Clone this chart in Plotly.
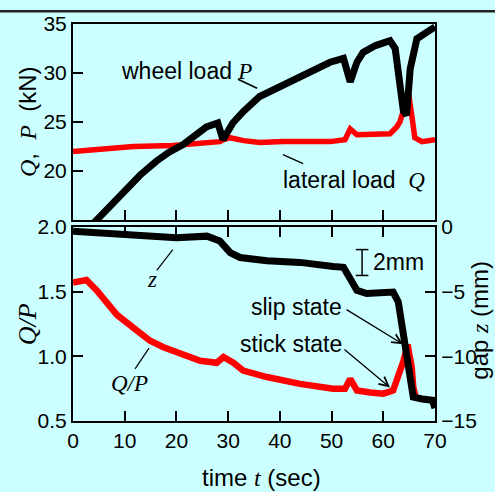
import plotly.graph_objects as go

# ---------------- data ----------------
t_P = [0, 4.8, 9.7, 13, 16.1, 18.5, 21.3, 23.5, 25.8, 28.0, 29.0, 30.9, 33.0, 36.1,
       40.0, 43.9, 47.0, 49.7, 52.3, 53.6, 54.9, 56.1, 58.5, 61.3, 62.3, 62.9,
       63.9, 64.5, 65.2, 66.5, 69.0, 70]
P = [12.5, 15.1, 18.0, 19.6, 21.0, 21.9, 22.7, 23.6, 24.5, 24.9, 23.2, 24.9, 26.1, 27.6,
     28.6, 29.6, 30.4, 31.1, 31.5, 29.1, 31.1, 32.1, 32.8, 33.3, 32.5, 29.8,
     26.1, 25.7, 30.4, 33.5, 34.3, 34.7]

t_Q = [0, 5, 11.7, 19.3, 25, 28.4, 29.1, 30.3, 33, 36.1, 40.7, 46, 49.7, 52.6, 53.6,
       54.9, 58, 61.3, 62.6, 63.2, 64.2, 64.9, 65.5, 66.1, 67.5, 70]
Q = [22.0, 22.2, 22.5, 22.6, 22.8, 23.0, 23.2, 23.4, 23.1, 22.9, 23.0, 23.0, 23.0, 23.2, 24.3,
     23.7, 23.7, 23.8, 24.5, 25.0, 26.7, 27.9, 25.7, 23.4, 23.0, 23.2]

t_z = [0, 6, 11.7, 16, 20.0, 25.9, 28.4, 30.4, 32.3, 37.5, 43.9, 50.3, 52.3, 53.6,
       54.9, 56.8, 59.5, 61.9, 62.9, 63.9, 64.9, 65.8, 67.5, 69.5, 70]
z = [-0.33, -0.45, -0.58, -0.7, -0.84, -0.71, -1.09, -1.98, -2.36, -2.61, -2.74, -3.05, -3.12, -4.0,
     -4.9, -5.15, -5.1, -5.03, -5.79, -8.3, -11.6, -13.15, -13.3, -13.4, -14.0]

t_QP = [0, 2.6, 4.6, 6.5, 8.5, 11.7, 14.9, 17.5, 20.0, 24.6, 27.8, 29.1, 31.0, 32.9,
        37.5, 43.9, 50.3, 52.6, 53.6, 54.9, 57.5, 60.0, 61.9, 63.2, 63.9, 64.7,
        65.5, 65.8, 66.3]
QP = [1.57, 1.59, 1.51, 1.42, 1.32, 1.22, 1.12, 1.07, 1.03, 0.965, 0.95, 0.995, 0.95, 0.89,
      0.84, 0.787, 0.75, 0.75, 0.825, 0.736, 0.72, 0.711, 0.736, 0.863, 0.964, 1.09,
      0.913, 0.76, 0.68]

x_ticks = [0, 10, 20, 30, 40, 50, 60, 70]
load_ticks = [20, 25, 30, 35]
ratio_ticks = [0.5, 1.0, 1.5, 2.0]
gap_ticks = [0, -5, -10, -15]
scale_bar_t = [55.9, 55.9]
scale_bar_z = [-1.75, -3.75]

# ---------------- figure ----------------
BG = "#CCFFFF"
SANS = "Liberation Sans, Arial, sans-serif"
SERIF = "Liberation Serif, Times New Roman, serif"


def it(s):
    return f'<span style="font-family:{SERIF}"><i>{s}</i></span>'


fig = go.Figure()
fig.add_trace(go.Scatter(x=t_Q, y=Q, mode="lines", line=dict(color="#FF0000", width=5.5),
                         xaxis="x", yaxis="y", showlegend=False))
fig.add_trace(go.Scatter(x=t_P, y=P, mode="lines", line=dict(color="#000000", width=7),
                         xaxis="x", yaxis="y", showlegend=False))
fig.add_trace(go.Scatter(x=t_QP, y=QP, mode="lines", line=dict(color="#FF0000", width=6.5),
                         xaxis="x2", yaxis="y2", showlegend=False))
fig.add_trace(go.Scatter(x=t_z, y=z, mode="lines", line=dict(color="#000000", width=7),
                         xaxis="x2", yaxis="y3", showlegend=False))
fig.add_trace(go.Scatter(x=scale_bar_t, y=scale_bar_z, mode="lines+markers",
                         line=dict(color="black", width=1.5),
                         marker=dict(symbol="line-ew", size=9, line=dict(color="black", width=1.5)),
                         xaxis="x2", yaxis="y3", showlegend=False))

axfont = dict(family=SANS, size=21, color="black")
common = dict(showline=True, linecolor="black", linewidth=2, ticks="inside", ticklen=10,
              tickwidth=2, tickcolor="black", showgrid=False, zeroline=False, tickfont=axfont)

fig.update_layout(
    width=495, height=492,
    margin=dict(l=73, r=60, t=18, b=71),
    paper_bgcolor=BG, plot_bgcolor=BG,
    xaxis=dict(domain=[0, 1], range=[0, 70], tickvals=x_ticks, showticklabels=False,
               mirror=True, anchor="y", **common),
    yaxis=dict(domain=[0.5062, 1], range=[15, 35], tickvals=load_ticks, mirror=True,
               anchor="x", **common),
    xaxis2=dict(domain=[0, 1], range=[0, 70], tickvals=x_ticks, mirror="ticks",
                anchor="y2", **common),
    yaxis2=dict(domain=[0, 0.4888], range=[0.5, 2.0], tickvals=ratio_ticks,
                tickformat=".1f", anchor="x2", **common),
    yaxis3=dict(range=[-15, 0], tickvals=gap_ticks, overlaying="y2", side="right",
                anchor="x2", **common),
)

tfont = dict(family=SANS, size=23, color="black")
titlefont = dict(family=SANS, size=24, color="black")
C = dict(xanchor="center", yanchor="middle", showarrow=False)
ann = []
# axis titles
ann.append(dict(text=f"{it('Q')},  {it('P')}  (kN)", xref="paper", yref="paper",
                x=-0.127, y=0.753, textangle=-90, font=titlefont, **C))
ann.append(dict(text=f"{it('Q/P')}", xref="paper", yref="paper",
                x=-0.127, y=0.244, textangle=-90,
                font=dict(family=SERIF, size=26, color="black"), **C))
ann.append(dict(text=f"gap {it('z')} (mm)", xref="paper", yref="paper",
                x=1.123, y=0.254, textangle=-90, font=titlefont, **C))
ann.append(dict(text=f"time {it('t')} (sec)", xref="paper", yref="paper",
                x=0.522, y=-0.143, font=titlefont, **C))
# in-plot labels
ann.append(dict(text=f"wheel load {it('P')}", xref="x", yref="y", x=21.9, y=30.2,
                font=tfont, **C))
ann.append(dict(text=f"lateral load  {it('Q')}", xref="x", yref="y", x=54.4, y=19.1,
                font=tfont, **C))
ann.append(dict(text=it("z"), xref="x2", yref="y3", x=15.3, y=-4.1, font=tfont, **C))
ann.append(dict(text=it("Q/P"), xref="x2", yref="y2", x=11.0, y=0.79, font=tfont, **C))
ann.append(dict(text="slip state", xref="x2", yref="y2", x=43.3, y=1.383, font=tfont, **C))
ann.append(dict(text="stick state", xref="x2", yref="y2", x=42.2, y=1.094, font=tfont, **C))
ann.append(dict(text="2mm", xref="x2", yref="y3", x=57.6, y=-2.74, xanchor="left",
                yanchor="middle", showarrow=False, font=tfont))
# arrows
ann.append(dict(text="", xref="x2", yref="y2", x=63.8, y=1.094, axref="x2", ayref="y2",
                ax=52.6, ay=1.368, showarrow=True, arrowhead=5, arrowsize=1.4,
                arrowwidth=1.3, arrowcolor="black"))
ann.append(dict(text="", xref="x2", yref="y2", x=61.3, y=0.759, axref="x2", ayref="y2",
                ax=52.2, ay=1.063, showarrow=True, arrowhead=5, arrowsize=1.4,
                arrowwidth=1.3, arrowcolor="black"))
fig.update_layout(annotations=ann)

shapes = [
    dict(type="line", xref="x", yref="y", x0=31.9, y0=29.36, x1=35.6, y1=28.45,
         line=dict(color="black", width=1.5)),
    dict(type="line", xref="x", yref="y", x0=40.6, y0=21.67, x1=44.5, y1=20.76,
         line=dict(color="black", width=1.5)),
    dict(type="line", xref="x2", yref="y3", x0=16.2, y0=-3.35, x1=19.3, y1=-1.75,
         line=dict(color="black", width=1.2)),
    dict(type="line", xref="x2", yref="y2", x0=12.0, y0=0.903, x1=14.7, y1=1.063,
         line=dict(color="black", width=1.2)),
    dict(type="line", xref="paper", yref="paper", x0=-0.25, x1=1.25, y0=1.032, y1=1.032,
         line=dict(color="#222222", width=2.5)),
]
fig.update_layout(shapes=shapes)

fig.write_html(
    "out.html",
    config={"displayModeBar": False},
    post_script="document.body.style.margin='0px';document.body.style.background='#CCFFFF';",
)
